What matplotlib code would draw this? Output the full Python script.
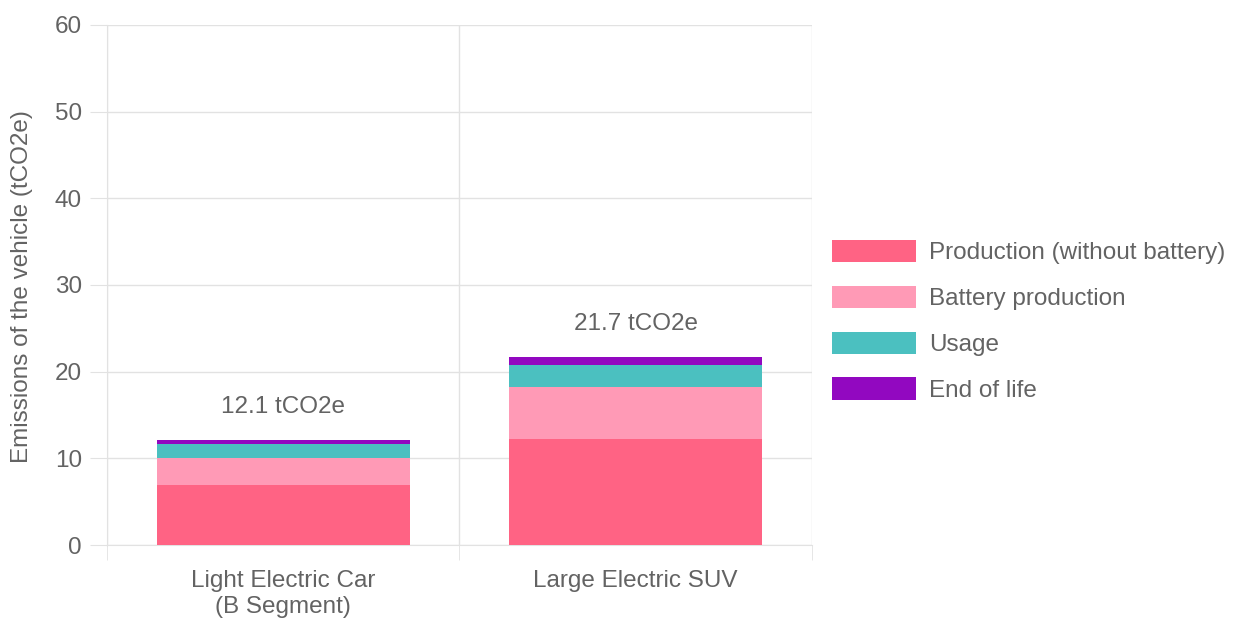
import numpy as np
import matplotlib.pyplot as plt
from matplotlib.patches import Patch

plt.rcParams['font.family'] = ['Liberation Sans', 'DejaVu Sans']

# emissions per life-cycle stage, tCO2e
vehicles = ["Light Electric Car\n(B Segment)", "Large Electric SUV"]
stages = ["Production (without battery)", "Battery production", "Usage", "End of life"]
production = [6.9, 12.2]
battery = [3.1, 6.0]
usage = [1.6, 2.6]
end_of_life = [0.5, 0.9]
totals = [12.1, 21.7]
colors = ["#ff6384", "#ff9ab6", "#4bc0c0", "#9208c0"]

text_col = "#636363"
grid_col = "#e2e2e2"
fs = 17.5

fig = plt.figure(figsize=(12.48, 6.24), dpi=100)
ax = fig.add_axes([0.0857, 0.1266, 0.5649, 0.8334])

x = np.arange(len(vehicles))
width = 0.717
bottom = np.zeros(len(vehicles))
for vals, col in zip([production, battery, usage, end_of_life], colors):
    ax.bar(x, vals, width, bottom=bottom, color=col, zorder=3)
    bottom += np.array(vals)

for xi, tot in zip(x, totals):
    ax.text(xi, tot + 3.8, "%.1f tCO2e" % tot, ha="center", va="center",
            fontsize=fs, color=text_col)

ax.set_xlim(-0.5, 1.5)
ax.set_ylim(0, 60)
ax.set_yticks(range(0, 61, 10))
ax.set_xticks(x)
ax.set_xticklabels(vehicles, linespacing=1.25)
ax.set_xticks([-0.5, 0.5, 1.5], minor=True)
ax.grid(axis="y", color=grid_col, lw=1, zorder=0)
ax.grid(axis="x", which="minor", color=grid_col, lw=1, zorder=0)
ax.tick_params(axis="y", length=12, color=grid_col, labelsize=fs,
               labelcolor=text_col, pad=6)
ax.tick_params(axis="x", which="major", length=0, labelsize=fs,
               labelcolor=text_col, pad=18)
ax.tick_params(axis="x", which="minor", length=11, color=grid_col)
for s in ["top", "right"]:
    ax.spines[s].set_visible(False)
for s in ["left", "bottom"]:
    ax.spines[s].set_color(grid_col)
ax.set_ylabel("Emissions of the vehicle (tCO2e)", fontsize=fs,
              color=text_col, va="center")
ax.yaxis.set_label_coords(-0.1206, 0.496)

handles = [Patch(facecolor=c, edgecolor="none") for c in colors]
fig.legend(handles, stages, loc="upper left",
           bbox_to_anchor=(832 / 1248, (624 - 240) / 624),
           frameon=False, fontsize=fs, labelcolor=text_col,
           borderpad=0, borderaxespad=0,
           handlelength=3.46, handleheight=1.03, labelspacing=0.88,
           handletextpad=0.53)

fig.savefig("out.png", dpi=100)
